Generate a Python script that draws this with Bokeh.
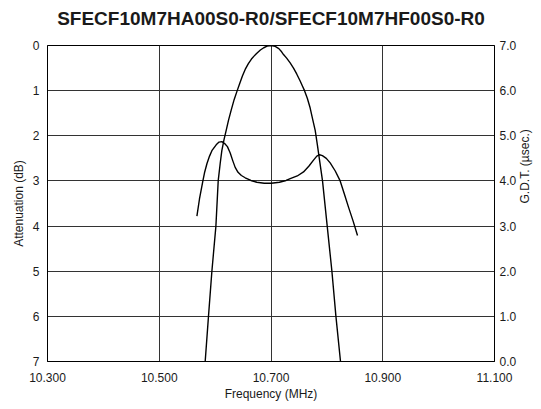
import math
from bokeh.plotting import figure
from bokeh.models import Range1d, LinearAxis, FixedTicker, NumeralTickFormatter
from bokeh.embed import file_html
from bokeh.resources import INLINE

# Attenuation curve (dB) vs frequency (MHz)
att_freq = [10.5822, 10.5881, 10.5942, 10.6014, 10.6055, 10.6090, 10.6120, 10.6160, 10.6198,
            10.6239, 10.6290, 10.6340, 10.6395, 10.6440, 10.6490, 10.6538, 10.6595, 10.6650,
            10.6700, 10.6747, 10.6810, 10.6870, 10.6930, 10.7004, 10.7075, 10.7140, 10.7190,
            10.7224, 10.7280, 10.7340, 10.7403, 10.7460, 10.7520, 10.7560, 10.7600, 10.7650,
            10.7700, 10.7750, 10.7791, 10.7830, 10.7870, 10.7922, 10.8006, 10.8090, 10.8162,
            10.8244]
att_db = [7.0, 6.0, 5.0, 4.0, 3.0, 2.62, 2.33, 2.08, 1.88,
          1.66, 1.42, 1.20, 1.0, 0.84, 0.67, 0.53, 0.40, 0.30,
          0.23, 0.17, 0.10, 0.05, 0.015, 0.0, 0.02, 0.07, 0.14,
          0.2, 0.28, 0.38, 0.5, 0.63, 0.78, 0.89, 1.0, 1.17,
          1.38, 1.66, 1.88, 2.2, 2.55, 3.0, 4.0, 5.0, 6.0,
          7.0]

# Group delay time (usec) vs frequency (MHz)
gdt_freq = [10.5674, 10.5720, 10.5781, 10.5810, 10.5853, 10.5900, 10.5942, 10.6019, 10.6070,
            10.6121, 10.6170, 10.6220, 10.6270, 10.6315, 10.6359, 10.6410, 10.6470, 10.6538,
            10.6640, 10.6747, 10.6880, 10.7004, 10.7150, 10.7270, 10.7344, 10.7470, 10.7582,
            10.7680, 10.7761, 10.7820, 10.7868, 10.7920, 10.7990, 10.8059, 10.8150, 10.8238,
            10.8310, 10.8387, 10.8470, 10.8548]
gdt_us = [3.22, 3.60, 4.0, 4.18, 4.38, 4.55, 4.67, 4.80, 4.86,
          4.87, 4.83, 4.76, 4.62, 4.45, 4.30, 4.19, 4.12, 4.07,
          4.01, 3.97, 3.95, 3.95, 3.97, 4.01, 4.05, 4.11, 4.20,
          4.33, 4.46, 4.55, 4.58, 4.56, 4.50, 4.40, 4.22, 4.00,
          3.72, 3.42, 3.11, 2.79]

x_ticks = [10.3, 10.5, 10.7, 10.9, 11.1]
att_ticks = [0, 1, 2, 3, 4, 5, 6, 7]
gdt_ticks = [0, 1, 2, 3, 4, 5, 6, 7]

TITLE = "SFECF10M7HA00S0-R0/SFECF10M7HF00S0-R0"
X_LABEL = "Frequency (MHz)"
Y_LABEL = "Attenuation (dB)"
Y2_LABEL = "G.D.T. (µsec.)"

FONT = "Liberation Sans"
TXT = "#1a1a1a"

X0, X1 = 10.3, 11.1
FW, FH = 447, 316

p = figure(frame_width=FW, frame_height=FH, output_backend="svg", toolbar_location=None,
           x_range=Range1d(X0, X1), y_range=Range1d(7, 0),
           min_border_left=47, min_border_right=44, min_border_top=45, min_border_bottom=44)
try:
    p.title_location = None
except Exception:
    p.title.text = ""

p.outline_line_color = "black"
p.outline_line_width = 1
p.background_fill_color = "white"
p.border_fill_color = "white"

bottom_ax = p.below[0]
left_ax = p.left[0]

bottom_ax.ticker = FixedTicker(ticks=x_ticks)
bottom_ax.formatter = NumeralTickFormatter(format="0.000")
bottom_ax.axis_label = X_LABEL
left_ax.ticker = FixedTicker(ticks=att_ticks)
left_ax.axis_label = Y_LABEL

p.extra_y_ranges = {"gdt": Range1d(0, 7)}
ax2 = LinearAxis(y_range_name="gdt", ticker=FixedTicker(ticks=gdt_ticks),
                 formatter=NumeralTickFormatter(format="0.0"), axis_label=Y2_LABEL)
p.add_layout(ax2, "right")

# title drawn as the label of a bare axis above the frame
title_ax = LinearAxis(ticker=FixedTicker(ticks=[]), axis_label=TITLE)
title_ax.axis_line_color = None
title_ax.major_tick_line_color = None
title_ax.minor_tick_line_color = None
title_ax.major_tick_out = 0
title_ax.major_tick_in = 0
title_ax.major_label_standoff = 0
title_ax.axis_label_standoff = 17
title_ax.axis_label_text_font = FONT
title_ax.axis_label_text_font_size = "19px"
title_ax.axis_label_text_font_style = "bold"
title_ax.axis_label_text_color = TXT
p.add_layout(title_ax, "above")

for ax in [bottom_ax, left_ax, ax2]:
    ax.major_tick_line_color = None
    ax.minor_tick_line_color = None
    ax.major_tick_out = 0
    ax.major_tick_in = 0
    ax.minor_tick_out = 0
    ax.minor_tick_in = 0
    ax.axis_line_color = "black"
    ax.major_label_text_font = FONT
    ax.major_label_text_font_size = "12px"
    ax.major_label_text_color = TXT
    ax.axis_label_text_font = FONT
    ax.axis_label_text_font_size = "12px"
    ax.axis_label_text_font_style = "normal"
    ax.axis_label_text_color = TXT

left_ax.major_label_standoff = 8
left_ax.axis_label_standoff = 4
bottom_ax.major_label_standoff = 11
bottom_ax.axis_label_standoff = 2
ax2.major_label_standoff = 5
ax2.axis_label_standoff = 6
if "axis_label_orientation" in ax2.properties():
    ax2.axis_label_orientation = math.pi / 2

p.xgrid.grid_line_color = "#333333"
p.ygrid.grid_line_color = "#333333"
p.xgrid.grid_line_width = 1
p.ygrid.grid_line_width = 1

p.line(att_freq, att_db, line_color="black", line_width=1.4)
p.line(gdt_freq, gdt_us, line_color="black", line_width=1.4, y_range_name="gdt")

open("out.html", "w").write(file_html(p, INLINE))
